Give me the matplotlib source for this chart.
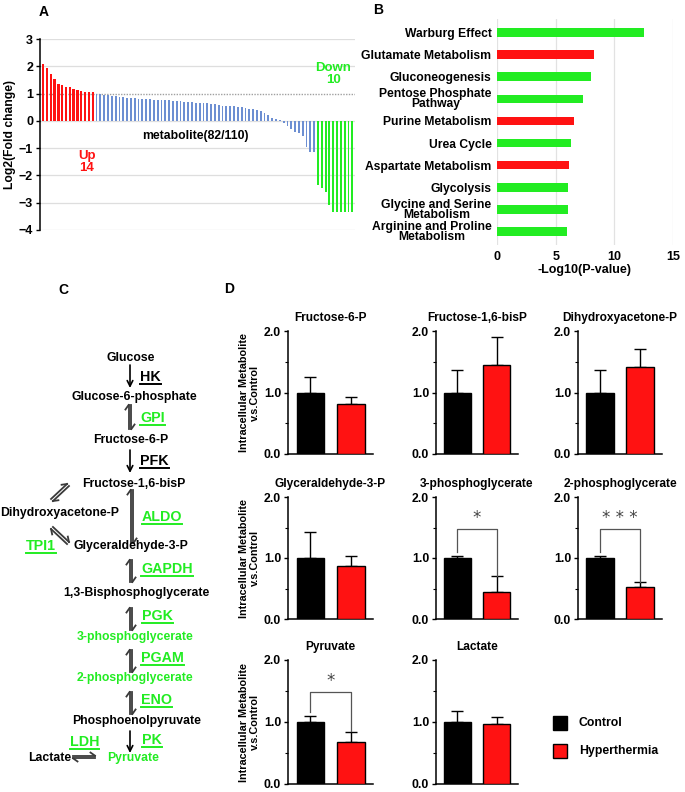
import matplotlib
matplotlib.use('Agg')
import matplotlib.pyplot as plt
from matplotlib.patches import Rectangle
import numpy as np

plt.rcParams['font.family'] = ['Liberation Sans', 'DejaVu Sans']
plt.rcParams['font.weight'] = 'bold'
plt.rcParams['axes.labelweight'] = 'bold'
plt.rcParams['axes.titleweight'] = 'bold'

W, H = 685, 792
GREEN = '#22ec22'
RED = '#ff1212'
BLUE = '#6d8fd2'
GRAY = '#3a3a3a'

# ---- data: panel A (log2 fold change, sorted)
fc_up = [2.1, 1.95, 1.7, 1.55, 1.35, 1.3, 1.25, 1.25, 1.15, 1.12, 1.1, 1.07, 1.05, 1.07]
fc_mid = [1.0, 0.97, 0.95, 0.93, 0.92, 0.91, 0.88, 0.86, 0.85, 0.83,
          0.82, 0.81, 0.80, 0.80, 0.79, 0.78, 0.78, 0.77, 0.76, 0.75,
          0.74, 0.72, 0.71, 0.70, 0.69, 0.68, 0.67, 0.66, 0.65, 0.64,
          0.62, 0.60, 0.58, 0.56, 0.55, 0.54, 0.53, 0.52, 0.50, 0.48,
          0.45, 0.42, 0.40, 0.35, 0.30, 0.20, 0.12, 0.08, 0.03, -0.08,
          -0.20, -0.30, -0.42, -0.45, -0.55, -0.95, -1.15, -1.15]
fc_down = [-2.35, -2.45, -2.6, -3.1, -3.35, -3.35, -3.35, -3.35, -3.35, -3.35]

# ---- data: panel B (pathway enrichment)
pathways = ['Warburg Effect', 'Glutamate Metabolism', 'Gluconeogenesis',
            'Pentose Phosphate\nPathway', 'Purine Metabolism', 'Urea Cycle',
            'Aspartate Metabolism', 'Glycolysis', 'Glycine and Serine\nMetabolism',
            'Arginine and Proline\nMetabolism']
neglogp = [12.5, 8.3, 8.0, 7.3, 6.6, 6.3, 6.1, 6.05, 6.05, 6.0]
direction = ['down', 'up', 'down', 'down', 'up', 'down', 'up', 'down', 'down', 'down']

# ---- data: panel D (relative metabolite level)
metabolites = ['Fructose-6-P', 'Fructose-1,6-bisP', 'Dihydroxyacetone-P',
               'Glyceraldehyde-3-P', '3-phosphoglycerate', '2-phosphoglycerate',
               'Pyruvate', 'Lactate']
ctrl_mean = [1.0, 1.0, 1.0, 1.0, 1.0, 1.0, 1.0, 1.0]
ctrl_err = [0.26, 0.36, 0.36, 0.43, 0.04, 0.04, 0.10, 0.17]
hyp_mean = [0.82, 1.45, 1.42, 0.87, 0.45, 0.52, 0.68, 0.96]
hyp_err = [0.11, 0.45, 0.29, 0.16, 0.25, 0.08, 0.16, 0.12]
signif = ['', '', '', '', '*', '* * *', '*', '']
groups = ['Control', 'Hyperthermia']

fig = plt.figure(figsize=(W / 100, H / 100), dpi=100)


def add_ax(l, t, r, b):
    return fig.add_axes([l / W, 1 - b / H, (r - l) / W, (b - t) / H])


# overlay axes in pixel coordinates (panel C, legend, panel letters)
axO = fig.add_axes([0, 0, 1, 1], zorder=-1)
axO.set_xlim(0, W)
axO.set_ylim(H, 0)
axO.axis('off')

for lab, x, y in [('A', 44, 12), ('B', 378, 10), ('C', 63, 290), ('D', 229, 289)]:
    axO.text(x, y, lab, fontsize=10, ha='center', va='center')

# ---------------- panel A
vals = fc_up + fc_mid + fc_down
cols = [RED] * len(fc_up) + [BLUE] * len(fc_mid) + [GREEN] * len(fc_down)
wids = [0.62] * len(fc_up) + [0.48] * len(fc_mid) + [0.5] * len(fc_down)
axA = add_ax(40, 39, 355, 230)
for yv in range(-4, 4):
    if yv == 1:
        axA.axhline(yv, color='#a0a0a0', lw=1.0, ls=(0, (1, 1)), zorder=0)
    else:
        axA.axhline(yv, color='#dedede', lw=0.9, zorder=0)
axA.bar(np.arange(len(vals)), vals, width=wids, color=cols, zorder=2)
axA.set_ylim(-4, 3)
axA.set_xlim(-0.8, len(vals) - 0.3)
axA.set_xticks([])
axA.set_yticks(range(-4, 4))
axA.tick_params(axis='y', labelsize=9, length=3, width=1, pad=2)
for s in ['top', 'right', 'bottom']:
    axA.spines[s].set_visible(False)
axA.spines['left'].set_linewidth(1.1)
axA.set_ylabel('Log2(Fold change)', fontsize=8.7, labelpad=2)
axA.text(40, -0.55, 'metabolite(82/110)', fontsize=8.8, ha='center', va='center')
axA.text(11.5, -1.5, 'Up\n14', color=RED, fontsize=9.5, ha='center', va='center',
         linespacing=1.0)
axA.text(76, 1.7, 'Down\n10', color=GREEN, fontsize=9.5, ha='center', va='center',
         linespacing=1.0)

# ---------------- panel B
axB = add_ax(497, 19, 673, 245)
yb = np.arange(len(pathways))
bcol = [RED if d == 'up' else GREEN for d in direction]
axB.barh(yb, neglogp, height=0.38, color=bcol, zorder=2)
axB.set_xlim(0, 15)
axB.set_ylim(len(pathways) - 0.4, -0.6)
axB.set_xticks([0, 5, 10, 15])
axB.set_yticks(yb)
axB.set_yticklabels(pathways)
for t in axB.get_yticklabels():
    t.set_multialignment('center')
    t.set_linespacing(0.78)
axB.grid(axis='x', color='#e2e2e2', lw=0.9, zorder=0)
for s in axB.spines.values():
    s.set_visible(False)
axB.tick_params(length=0, labelsize=8.7, pad=4)
axB.tick_params(axis='x', labelsize=9)
axB.set_xlabel('-Log10(P-value)', fontsize=9, labelpad=1)

# ---------------- panel C (glycolysis pathway)
renderer = fig.canvas.get_renderer()


def ptext(s, x, y, color='black', size=8.8):
    axO.text(x, y, s, fontsize=size, ha='center', va='center', color=color)


def enzyme(s, x, y, color=GREEN):
    t = axO.text(x, y, s, fontsize=10.3, ha='left', va='center', color=color)
    bb = t.get_window_extent(renderer)
    inv = axO.transData.inverted()
    (x0, y0), (x1, y1) = inv.transform([[bb.x0, bb.y0], [bb.x1, bb.y1]])
    ybot = max(y0, y1) + 0.3
    axO.plot([x0, x1], [ybot, ybot], color=color, lw=1.4)


def down_arrow(x, y0, y1):
    axO.annotate('', xy=(x, y1), xytext=(x, y0),
                 arrowprops=dict(arrowstyle='->', lw=1.2, color='black',
                                 shrinkA=0, shrinkB=0, mutation_scale=10))


def eq_arrow(x0, y0, x1, y1, off=1.4, barb=4.5):
    # two parallel harpoons, one towards (x1, y1), the other back to (x0, y0)
    p0 = np.array([x0, y0], float)
    p1 = np.array([x1, y1], float)
    d = (p1 - p0) / np.linalg.norm(p1 - p0)
    n = np.array([d[1], -d[0]])
    a0, a1 = p0 + off * n, p1 + off * n
    b0, b1 = p0 - off * n, p1 - off * n
    axO.plot([a0[0], a1[0]], [a0[1], a1[1]], color=GRAY, lw=1.3)
    h = a1 - barb * d + 0.7 * barb * n
    axO.plot([a1[0], h[0]], [a1[1], h[1]], color=GRAY, lw=1.3)
    axO.plot([b0[0], b1[0]], [b0[1], b1[1]], color=GRAY, lw=1.3)
    h = b0 + barb * d - 0.7 * barb * n
    axO.plot([b0[0], h[0]], [b0[1], h[1]], color=GRAY, lw=1.3)


ptext('Glucose', 131, 358)
ptext('Glucose-6-phosphate', 134, 397)
ptext('Fructose-6-P', 131, 440)
ptext('Fructose-1,6-bisP', 134, 484)
ptext('Dihydroxyacetone-P', 60, 513)
ptext('Glyceraldehyde-3-P', 131, 546)
ptext('1,3-Bisphosphoglycerate', 136, 593)
ptext('3-phosphoglycerate', 135, 637, color=GREEN)
ptext('2-phosphoglycerate', 135, 678, color=GREEN)
ptext('Phosphoenolpyruvate', 137, 721)
ptext('Lactate', 50, 758)
ptext('Pyruvate', 133, 758, color=GREEN)

enzyme('HK', 140, 377, color='black')
enzyme('GPI', 140, 418)
enzyme('PFK', 140, 461, color='black')
enzyme('ALDO', 142, 517)
enzyme('TPI1', 26, 546)
enzyme('GAPDH', 141, 569)
enzyme('PGK', 142, 616)
enzyme('PGAM', 141, 658)
enzyme('ENO', 141, 700)
enzyme('PK', 142, 740)
enzyme('LDH', 70, 742)

down_arrow(130, 365, 388)
eq_arrow(130, 429, 130, 405)
down_arrow(130, 450, 473)
eq_arrow(52, 500, 68, 485)
eq_arrow(132, 543, 132, 490)
eq_arrow(68, 543, 52, 528)
eq_arrow(131, 582, 131, 560)
eq_arrow(131, 630, 131, 608)
eq_arrow(131, 672, 131, 650)
eq_arrow(131, 714, 131, 692)
down_arrow(130, 731, 753)
eq_arrow(95, 757, 73, 757, off=1.3)

# ---------------- panel D (bar charts)
col_lr = [(288, 373), (436, 518), (578, 662)]
row_tb = [(331, 454), (497, 619), (660, 784)]

for i, name in enumerate(metabolites):
    r, c = divmod(i, 3)
    ax = add_ax(col_lr[c][0], row_tb[r][0], col_lr[c][1], row_tb[r][1])
    means = [ctrl_mean[i], hyp_mean[i]]
    errs = [ctrl_err[i], hyp_err[i]]
    ax.bar([0, 1], means, width=0.68, color=['black', RED], edgecolor='black',
           linewidth=1.0, zorder=3)
    ax.errorbar([0, 1], means, yerr=[[0, 0], errs], fmt='none', ecolor='black',
                elinewidth=1.0, capsize=4, capthick=1.0, zorder=2)
    ax.set_xlim(-0.55, 1.55)
    ax.set_ylim(0, 2.0)
    ax.set_yticks([0, 1, 2])
    ax.set_yticklabels(['0.0', '1.0', '2.0'])
    ax.set_yticks([0.5, 1.5], minor=True)
    ax.set_xticks([])
    ax.tick_params(axis='y', which='major', labelsize=8.8, length=3, width=1, pad=2)
    ax.tick_params(axis='y', which='minor', length=2, width=0.8)
    ax.spines['top'].set_visible(False)
    ax.spines['right'].set_visible(False)
    ax.spines['left'].set_linewidth(1.1)
    ax.spines['bottom'].set_linewidth(1.1)
    ax.set_title(name, fontsize=8.6, pad=7)
    if signif[i]:
        top = 1.48
        left_bot = ctrl_mean[i] + ctrl_err[i] + 0.06
        right_bot = hyp_mean[i] + hyp_err[i] + 0.01
        ax.plot([0, 0, 1, 1], [left_bot, top, top, right_bot], color='#555555',
                lw=0.9, zorder=4)
        ax.text(0.5, top + 0.03, signif[i], fontsize=12, fontweight='normal',
                color='#444444', ha='center', va='bottom', family='DejaVu Sans')
    if c == 0:
        ax.set_ylabel('Intracellular Metabolite\nv.s.Control', fontsize=7.8,
                      labelpad=3, linespacing=1.05)

# legend
for k, (g, colr) in enumerate(zip(groups, ['black', RED])):
    yk = 723 + 28 * k
    axO.add_patch(Rectangle((553, yk - 7), 14, 14, facecolor=colr,
                            edgecolor='black', lw=1.0))
    axO.text(579, yk, g, fontsize=8.8, ha='left', va='center')

fig.savefig('out.png', dpi=100)
